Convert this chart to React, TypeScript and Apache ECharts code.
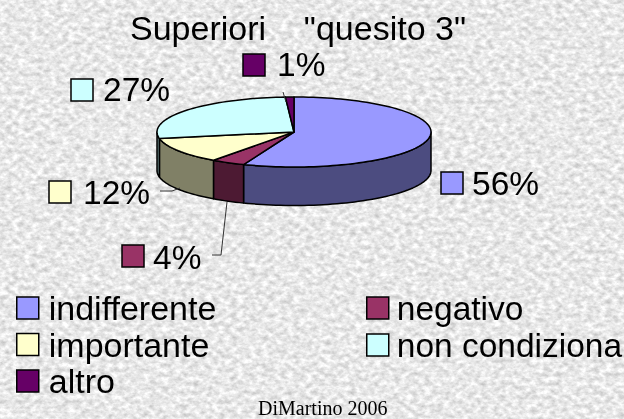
import React, { useEffect, useRef } from "react";
import * as echarts from "echarts";

const titleText = 'Superiori    "quesito 3"';
const footerText = "DiMartino 2006";
const categories = ["indifferente", "negativo", "importante", "non condiziona", "altro"];
const percentages = [56, 4, 12, 27, 1];
const topColors = ["#9999FF", "#993366", "#FFFFCC", "#CCFFFF", "#660066"];
const wallColors = ["#4C4C80", "#4D1A33", "#808066", "#668080", "#330033"];

// layout of the percent labels: key box left/top, text left/middle
const labelLayout = [
  { bx: 441, by: 172, tx: 472, ty: 183 },
  { bx: 122, by: 245, tx: 153, ty: 257 },
  { bx: 49, by: 181, tx: 83, ty: 192 },
  { bx: 71, by: 79, tx: 103, ty: 89 },
  { bx: 243, by: 54, tx: 277, ty: 64 },
];
const leaderLines = [
  null,
  [[227, 202], [221, 255], [212, 255]],
  [[160, 191], [172, 191], [180, 188]],
  null,
  [[283, 92], [286, 102]],
];

const CX = 294, CY = 132, RX = 137, RY = 35, DEPTH = 38.5;
const total = percentages.reduce((a, b) => a + b, 0);

const pt = (deg: number, dy = 0) => {
  const r = (deg * Math.PI) / 180;
  return [CX + RX * Math.sin(r), CY - RY * Math.cos(r) + dy];
};
const arc = (from: number, to: number, dy = 0) => {
  const n = Math.max(2, Math.ceil(Math.abs(to - from) / 2));
  const out: number[][] = [];
  for (let i = 0; i <= n; i++) out.push(pt(from + ((to - from) * i) / n, dy));
  return out;
};

const makeRenderItem = (index: number) => () => {
  const start = (percentages.slice(0, index).reduce((a, b) => a + b, 0) / total) * 360;
  const end = start + (percentages[index] / total) * 360;
  const children: any[] = [];
  const line = { stroke: "#000", lineWidth: 1.5, lineJoin: "round" };
  const wStart = Math.max(start, 90);
  const wEnd = Math.min(end, 270);
  if (wEnd > wStart) {
    children.push({
      type: "polygon",
      shape: { points: [...arc(wStart, wEnd), ...arc(wEnd, wStart, DEPTH)] },
      style: { fill: wallColors[index], ...line },
    });
  }
  children.push({
    type: "polygon",
    shape: { points: [[CX, CY], ...arc(start, end)] },
    style: { fill: topColors[index], ...line },
  });
  const leader = leaderLines[index];
  if (leader) {
    children.push({
      type: "polyline",
      shape: { points: leader },
      style: { fill: "none", stroke: "#333", lineWidth: 1 },
    });
  }
  const l = labelLayout[index];
  children.push({
    type: "rect",
    shape: { x: l.bx, y: l.by, width: 22, height: 22 },
    style: { fill: topColors[index], stroke: "#000", lineWidth: 1.5 },
  });
  children.push({
    type: "text",
    x: l.tx,
    y: l.ty,
    style: {
      text: percentages[index] + "%",
      fill: "#000",
      font: '33.5px "Liberation Sans"',
      textAlign: "left",
      textVerticalAlign: "middle",
    },
  });
  return { type: "group", children };
};

const legendBase = {
  orient: "vertical",
  icon: "rect",
  itemWidth: 22,
  itemHeight: 22,
  itemGap: 2.5,
  padding: 0,
  selectedMode: false,
  itemStyle: { borderColor: "#000", borderWidth: 1.5 },
};

const noise =
  "data:image/svg+xml," +
  encodeURIComponent(
    `<svg xmlns="http://www.w3.org/2000/svg" width="624" height="419"><filter id="n" color-interpolation-filters="sRGB" x="0" y="0" width="100%" height="100%"><feTurbulence type="fractalNoise" baseFrequency="0.16 0.22" numOctaves="3" seed="7"/><feColorMatrix values="0.36 0 0 0 0.73 0.36 0 0 0 0.73 0.36 0 0 0 0.73 0 0 0 0 1"/></filter><rect width="624" height="419" filter="url(#n)"/></svg>`
  );

export default function App() {
  const ref = useRef<HTMLDivElement>(null);
  useEffect(() => {
    const chart = echarts.init(ref.current!, undefined, { renderer: "svg" });
    chart.setOption({
      animation: false,
      backgroundColor: "transparent",
      title: {
        text: titleText,
        left: 130,
        top: 11,
        padding: 0,
        textStyle: { fontSize: 34, fontWeight: "normal", fontFamily: "Liberation Sans", color: "#000" },
      },
      tooltip: { show: false },
      legend: [
        {
          ...legendBase,
          left: 16,
          top: 291,
          textStyle: { fontSize: 34, fontFamily: "Liberation Sans", color: "#000", padding: [0, 0, 0, 5] },
          data: [categories[0], categories[2], categories[4]],
        },
        {
          ...legendBase,
          left: 366,
          top: 291,
          itemGap: 3,
          textStyle: { fontSize: 33.5, fontFamily: "Liberation Sans", color: "#000", padding: [0, 0, 0, 3] },
          data: [categories[1], categories[3]],
        },
      ],
      series: categories.map((name, i) => ({
        type: "custom",
        name,
        coordinateSystem: "none",
        itemStyle: { color: topColors[i] },
        silent: true,
        data: [percentages[i]],
        renderItem: makeRenderItem(i),
      })),
      graphic: [
        {
          type: "text",
          left: 258,
          top: 398,
          style: { text: footerText, fill: "#000", font: '20px "Liberation Serif"' },
        },
      ],
    });
    return () => chart.dispose();
  }, []);
  return (
    <div
      style={{
        position: "fixed",
        left: 0,
        top: 0,
        width: 624,
        height: 419,
        backgroundImage: `url("${noise}")`,
      }}
    >
      <div ref={ref} style={{ width: 624, height: 419 }} />
    </div>
  );
}
